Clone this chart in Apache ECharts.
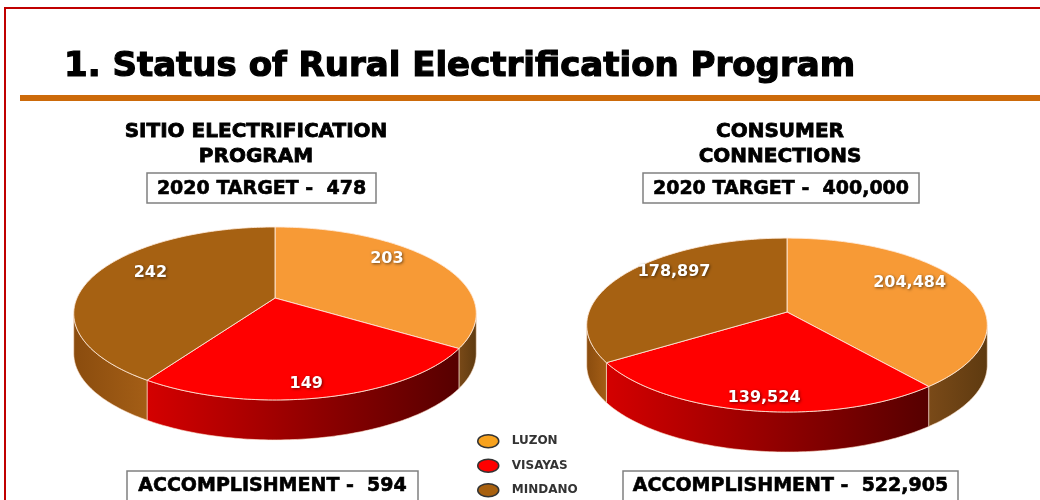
<!DOCTYPE html>
<html><head><meta charset="utf-8">
<script src="https://cdn.jsdelivr.net/npm/echarts@6/dist/echarts.min.js"></script>
<style>html,body{margin:0;padding:0;background:#fff}#c{width:1040px;height:500px}</style>
</head><body><div id="c"></div>
<script>
// ---- data ----
const chartTitle = '1. Status of Rural Electrification Program';
const regions = ['LUZON', 'VISAYAS', 'MINDANO'];
const sitioValues = [203, 149, 242];
const consumerValues = [204484, 139524, 178897];
const pieHeadings = [['SITIO ELECTRIFICATION', 'PROGRAM'], ['CONSUMER', 'CONNECTIONS']];
const targetLabels = ['2020 TARGET -  478', '2020 TARGET -  400,000'];
const accomplishmentLabels = ['ACCOMPLISHMENT -  594', 'ACCOMPLISHMENT -  522,905'];

const pieValues = [sitioValues, consumerValues];

// ---- styles ----
const FONT = '"DejaVu Sans", sans-serif';
const topColors = ['#F79A36', '#FF0000', '#A66112'];
const legendColors = ['#F7A21E', '#FF0000', '#A8600E'];
const wallColors = [['#7A4A18', '#5E3A10'], ['#D40000', '#560000'], ['#8A4C0E', '#A45E16']];
const pieGeom = [
  { cx: 275, cy: 298, A: 198, B: 83.7, p: 0.179, h: 40 },
  { cx: 787, cy: 312, A: 198, B: 85, p: 0.15, h: 40 }
];

function proj(g, r, deg) {
  const t = deg * Math.PI / 180;
  const u = r * Math.sin(t), v = -r * Math.cos(t);
  const w = 1 / (1 - g.p * v);
  return [g.cx + g.A * u * w, g.cy + g.B * v * w];
}

function renderSlice(params, api) {
  const ri = params.seriesIndex, pi = params.dataIndex;
  const vals = pieValues[pi];
  const total = vals.reduce((a, b) => a + b, 0);
  let before = 0;
  for (let k = 0; k < ri; k++) before += vals[k];
  const val = api.value(0);
  const a1 = before / total * 360, a2 = (before + val) / total * 360;
  const g = pieGeom[pi];
  const children = [];
  // outer wall (visible front part)
  const lim = Math.acos(-g.p) * 180 / Math.PI;
  const w1 = Math.max(a1, lim), w2 = Math.min(a2, 360 - lim);
  if (w2 > w1) {
    const top = [], bot = [];
    const n = Math.max(2, Math.ceil(w2 - w1));
    for (let i = 0; i <= n; i++) {
      const pt = proj(g, 1, w1 + (w2 - w1) * i / n);
      top.push(pt);
      bot.push([pt[0], pt[1] + g.h]);
    }
    children.push({
      type: 'polygon', z2: 1,
      shape: { points: top.concat(bot.reverse()) },
      style: {
        fill: new echarts.graphic.LinearGradient(0, 0, 1, 0, [
          { offset: 0, color: wallColors[ri][0] }, { offset: 1, color: wallColors[ri][1] }]),
        stroke: 'rgba(255,230,210,0.75)', lineWidth: 0.8
      }
    });
  }
  // top face
  const pts = [proj(g, 0, 0)];
  const n2 = Math.max(2, Math.ceil(a2 - a1));
  for (let i = 0; i <= n2; i++) pts.push(proj(g, 1, a1 + (a2 - a1) * i / n2));
  children.push({
    type: 'polygon', z2: 10,
    shape: { points: pts },
    style: { fill: topColors[ri], stroke: 'rgba(255,235,220,0.85)', lineWidth: 1 }
  });
  // label
  const mid = (a1 + a2) / 2;
  const lp = proj(g, 0.68, mid);
  const vMid = -Math.cos(mid * Math.PI / 180);
  children.push({
    type: 'text', z2: 20,
    x: lp[0], y: lp[1] + 25 * vMid - 2,
    style: {
      text: val.toLocaleString('en-US'),
      align: 'center', verticalAlign: 'middle',
      fill: '#fff', fontFamily: FONT, fontWeight: 'bold', fontSize: 16,
      textShadowColor: 'rgba(0,0,0,0.55)', textShadowBlur: 3,
      textShadowOffsetX: 1, textShadowOffsetY: 1
    }
  });
  return { type: 'group', children: children };
}

function heavyText(x, y, text, size, align, sw) {
  return { type: 'text', x: x, y: y,
    style: { text: text, fill: '#000', stroke: '#000', lineWidth: sw, fontFamily: FONT, fontWeight: 'bold', fontSize: size, align: align, verticalAlign: 'middle' } };
}

const graphics = [
  { type: 'rect', shape: { x: 5, y: 8, width: 1060, height: 520 }, style: { fill: 'none', stroke: '#C00000', lineWidth: 2 }, z: 0 },
  { type: 'rect', shape: { x: 20, y: 95, width: 1030, height: 6 }, style: { fill: '#CC6A0A' } },
  heavyText(64, 67, chartTitle, 34, 'left', 1.2)
];
const headCenters = [256, 780];
const targetBoxes = [[147, 173, 229, 30], [643, 173, 276, 30]];
const accBoxes = [[127, 471, 291, 32], [623, 471, 335, 32]];
for (let i = 0; i < 2; i++) {
  pieHeadings[i].forEach((t, j) => graphics.push(heavyText(headCenters[i], 132 + j * 25, t, 20, 'center', 0.8)));
  const tb = targetBoxes[i];
  graphics.push({ type: 'rect', shape: { x: tb[0], y: tb[1], width: tb[2], height: tb[3] }, style: { fill: '#fff', stroke: '#808080', lineWidth: 1.5 } });
  graphics.push(heavyText(tb[0] + tb[2] / 2, tb[1] + tb[3] / 2 + 1, targetLabels[i], 19, 'center', 0.6));
  const ab = accBoxes[i];
  graphics.push({ type: 'rect', shape: { x: ab[0], y: ab[1], width: ab[2], height: ab[3] }, style: { fill: '#fff', stroke: '#808080', lineWidth: 1.5 } });
  graphics.push(heavyText(ab[0] + ab[2] / 2, ab[1] + 15, accomplishmentLabels[i], 19, 'center', 0.6));
}

const chart = echarts.init(document.getElementById('c'), null, { renderer: 'canvas' });
chart.setOption({
  animation: false,
  backgroundColor: '#fff',
  legend: {
    orient: 'vertical', left: 472, top: 429, height: 120,
    itemWidth: 21, itemHeight: 13, itemGap: 10,
    icon: 'path://M0,6.5A10.5,6.5 0 1,0 21,6.5A10.5,6.5 0 1,0 0,6.5Z',
    selectedMode: false,
    data: regions.map((r, i) => ({ name: r, itemStyle: { color: legendColors[i], borderColor: '#333', borderWidth: 1.5 } })),
    textStyle: { fontFamily: FONT, fontWeight: 'bold', fontSize: 12, color: '#333', padding: [0, 0, 0, 8] }
  },
  graphic: graphics,
  series: regions.map((r, i) => ({
    type: 'custom', name: r, coordinateSystem: 'none', silent: true,
    itemStyle: { color: topColors[i] },
    data: pieValues.map(v => v[i]),
    renderItem: renderSlice
  }))
});
</script></body></html>
